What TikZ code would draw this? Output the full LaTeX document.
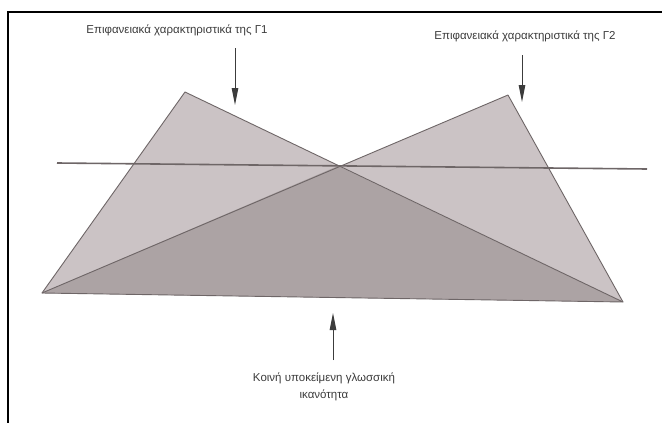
\documentclass[tikz,border=0pt]{standalone}
\usepackage{fontspec}
\setmainfont{Liberation Sans}
\usetikzlibrary{arrows.meta}
\definecolor{lightfill}{HTML}{CBC3C5}
\definecolor{darkfill}{HTML}{ACA3A4}
\definecolor{edgecol}{HTML}{6E6667}
\definecolor{textcol}{HTML}{3C3C3C}
\begin{document}
\begin{tikzpicture}[x=1pt,y=-1pt,
  lbl/.style={font=\fontsize{11.5}{17}\selectfont, text=textcol, inner sep=0pt, align=center},
  pointer/.style={draw=textcol, line width=0.9pt, -{Triangle[length=17pt,width=6.5pt]}},
  edgeline/.style={draw=edgecol, line width=0.9pt, line join=round},
  crossline/.style={draw=edgecol, line width=1.6pt}]
\useasboundingbox (0,0) rectangle (662,423);
\fill[white] (0,0) rectangle (662,423);
\draw[line width=2pt] (8,424) -- (8,12) -- (663,12);
% vertices
\coordinate (A1) at (185,92);
\coordinate (A2) at (508,95);
\coordinate (BL) at (42,293);
\coordinate (BR) at (623,302);
\coordinate (X) at (338,166);
\fill[lightfill] (A1) -- (BL) -- (BR) -- cycle;
\fill[lightfill] (A2) -- (BL) -- (BR) -- cycle;
\fill[darkfill] (X) -- (BL) -- (BR) -- cycle;
\draw[edgeline] (A1) -- (BL) -- (BR) -- cycle;
\draw[edgeline] (A2) -- (BL);
\draw[edgeline] (A2) -- (BR);
% horizontal line
\coordinate (HL) at (57,163);
\coordinate (HR) at (647,169);
\draw[crossline] (HL) -- (HR);
% labels
\node[lbl] (t1) at (177,30) {Επιφανειακά χαρακτηριστικά της Γ1};
\node[lbl] (t2) at (525,36) {Επιφανειακά χαρακτηριστικά της Γ2};
\node[lbl] (t3) at (324,387) {Κοινή υποκείμενη γλωσσική\\ικανότητα};
% arrows
\coordinate (s1) at (235,48);
\coordinate (e1) at (235,105);
\coordinate (s2) at (522,55);
\coordinate (e2) at (522,102);
\coordinate (s3) at (333,360);
\coordinate (e3) at (333,313);
\draw[pointer] (s1) -- (e1);
\draw[pointer] (s2) -- (e2);
\draw[pointer] (s3) -- (e3);
\end{tikzpicture}
\end{document}
